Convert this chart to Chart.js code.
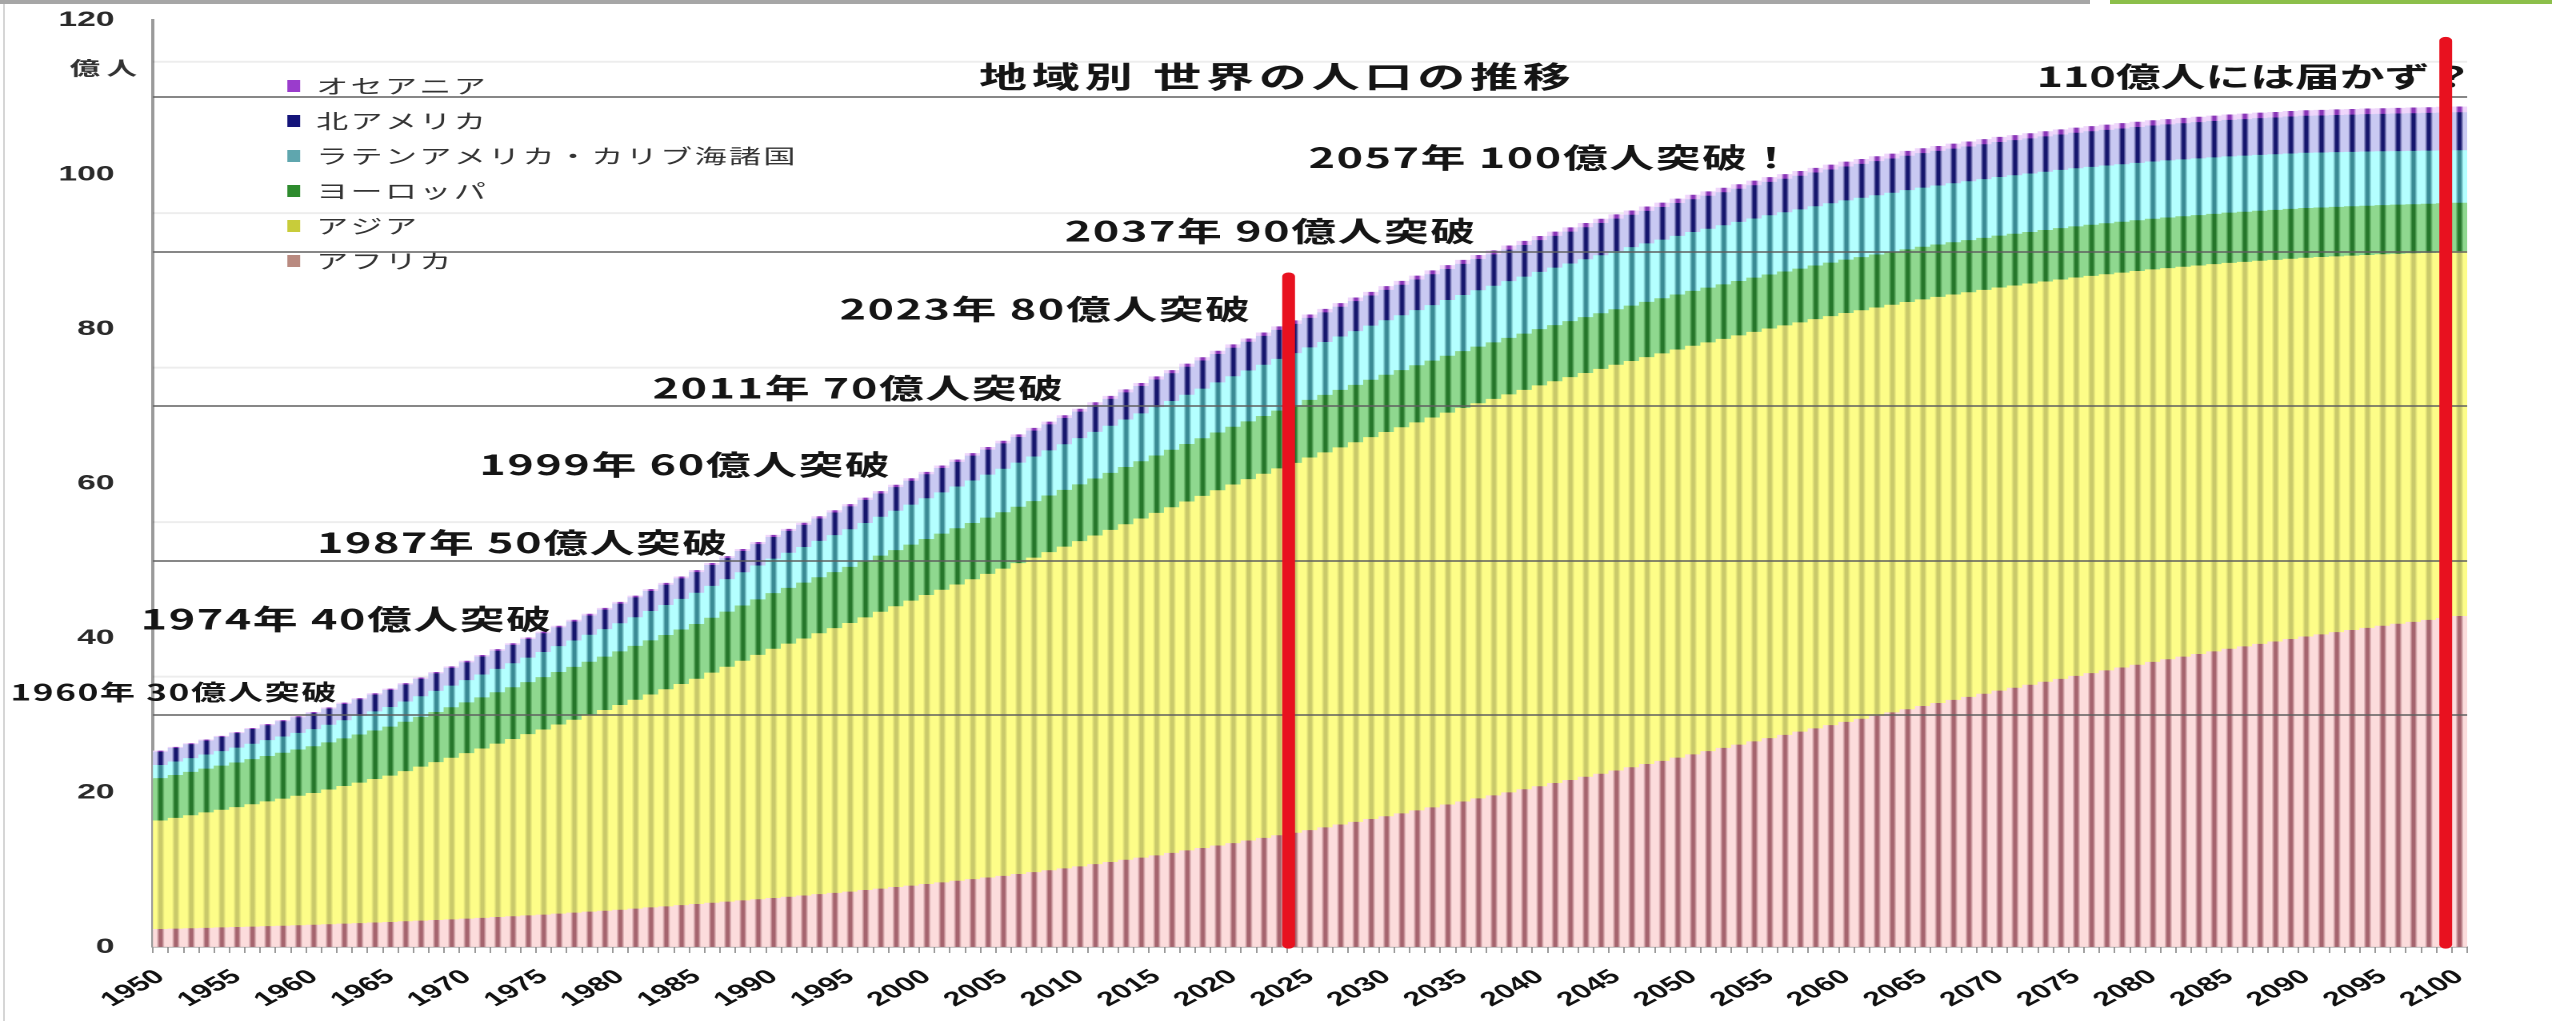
<!DOCTYPE html>
<html lang="ja">
<head>
<meta charset="utf-8">
<title>地域別 世界の人口の推移</title>
<script src="https://cdn.jsdelivr.net/npm/chart.js@4.4.1/dist/chart.umd.min.js"></script>
<style>
  html, body { margin: 0; padding: 0; background: #fff; overflow: hidden; }
  body { width: 2552px; height: 1021px; position: relative; }
  /* the source image is stretched sideways, so the chart is drawn narrow and widened */
  #stage { position: absolute; left: 0; top: 0; width: 1595px; height: 1021px; transform: scaleX(1.6); transform-origin: 0 0; }
  #topGray { position: absolute; left: 0; top: 0; width: 2090px; height: 4px; background: #a6a6a6; }
  #topGreen { position: absolute; left: 2110px; top: 0; width: 442px; height: 4px; background: #8cbf4a; }
  #leftEdge { position: absolute; left: 3px; top: 4px; width: 2px; height: 1017px; background: #d6d6d6; }
</style>
</head>
<body>
<div id="stage"><canvas id="popChart" width="1595" height="1021"></canvas></div>
<div id="topGray"></div>
<div id="topGreen"></div>
<div id="leftEdge"></div>
<script>
// 年 (1950〜2100)
const years = [];
for (let y = 1950; y <= 2100; y++) years.push(y);

// 人口 (億人) 地域別
const africa = [
  2.28, 2.33, 2.38, 2.44, 2.49, 2.54, 2.60, 2.66, 2.71, 2.77,
  2.83, 2.90, 2.98, 3.05, 3.13, 3.20, 3.29, 3.37, 3.46, 3.54,
  3.63, 3.73, 3.84, 3.94, 4.05, 4.15, 4.28, 4.40, 4.53, 4.65,
  4.78, 4.93, 5.08, 5.22, 5.37, 5.52, 5.68, 5.83, 5.99, 6.14,
  6.30, 6.47, 6.63, 6.80, 6.96, 7.13, 7.33, 7.52, 7.72, 7.91,
  8.11, 8.32, 8.53, 8.74, 8.95, 9.16, 9.41, 9.65, 9.90, 10.14,
  10.39, 10.68, 10.96, 11.25, 11.53, 11.82, 12.14, 12.46, 12.77, 13.09,
  13.41, 13.75, 14.08, 14.42, 14.75, 15.09, 15.45, 15.81, 16.16, 16.52,
  16.88, 17.26, 17.64, 18.03, 18.41, 18.79, 19.19, 19.58, 19.98, 20.37,
  20.77, 21.18, 21.58, 21.99, 22.39, 22.80, 23.22, 23.64, 24.05, 24.47,
  24.89, 25.31, 25.73, 26.16, 26.58, 27.00, 27.42, 27.84, 28.26, 28.68,
  29.10, 29.51, 29.92, 30.33, 30.74, 31.15, 31.55, 31.95, 32.34, 32.74,
  33.14, 33.52, 33.90, 34.29, 34.67, 35.05, 35.41, 35.77, 36.14, 36.50,
  36.86, 37.20, 37.54, 37.88, 38.22, 38.56, 38.88, 39.20, 39.51, 39.83,
  40.15, 40.43, 40.71, 40.99, 41.27, 41.55, 41.80, 42.05, 42.30, 42.55,
  42.80
];
const asia = [
  14.05, 14.35, 14.64, 14.94, 15.23, 15.53, 15.84, 16.15, 16.45, 16.76,
  17.07, 17.44, 17.82, 18.19, 18.57, 18.94, 19.44, 19.93, 20.43, 20.92,
  21.42, 21.93, 22.44, 22.95, 23.46, 23.97, 24.48, 24.98, 25.49, 25.99,
  26.50, 27.03, 27.57, 28.10, 28.64, 29.17, 29.79, 30.41, 31.02, 31.64,
  32.26, 32.76, 33.26, 33.77, 34.27, 34.77, 35.30, 35.83, 36.35, 36.88,
  37.41, 37.88, 38.36, 38.83, 39.31, 39.78, 40.24, 40.71, 41.17, 41.64,
  42.10, 42.55, 43.00, 43.44, 43.89, 44.34, 44.75, 45.17, 45.58, 46.00,
  46.41, 46.77, 47.14, 47.50, 47.87, 48.23, 48.53, 48.83, 49.14, 49.44,
  49.74, 49.98, 50.23, 50.47, 50.72, 50.96, 51.15, 51.33, 51.52, 51.70,
  51.89, 52.02, 52.15, 52.27, 52.40, 52.53, 52.60, 52.68, 52.75, 52.83,
  52.90, 52.92, 52.95, 52.97, 53.00, 53.02, 53.00, 52.98, 52.97, 52.95,
  52.93, 52.87, 52.82, 52.76, 52.71, 52.65, 52.56, 52.47, 52.37, 52.28,
  52.19, 52.07, 51.94, 51.82, 51.69, 51.57, 51.42, 51.27, 51.11, 50.96,
  50.81, 50.64, 50.47, 50.30, 50.13, 49.96, 49.77, 49.59, 49.40, 49.22,
  49.03, 48.84, 48.65, 48.46, 48.27, 48.08, 47.90, 47.72, 47.55, 47.38,
  47.20
];
const europe = [
  5.49, 5.55, 5.60, 5.66, 5.71, 5.77, 5.83, 5.88, 5.94, 5.99,
  6.05, 6.11, 6.17, 6.23, 6.29, 6.35, 6.39, 6.44, 6.48, 6.53,
  6.57, 6.61, 6.65, 6.69, 6.73, 6.77, 6.80, 6.84, 6.87, 6.91,
  6.94, 6.97, 7.00, 7.02, 7.05, 7.08, 7.11, 7.13, 7.16, 7.18,
  7.21, 7.22, 7.23, 7.25, 7.26, 7.27, 7.27, 7.27, 7.26, 7.26,
  7.26, 7.27, 7.27, 7.28, 7.28, 7.29, 7.30, 7.32, 7.33, 7.35,
  7.36, 7.37, 7.38, 7.40, 7.41, 7.42, 7.43, 7.44, 7.46, 7.47,
  7.48, 7.48, 7.47, 7.47, 7.46, 7.46, 7.45, 7.44, 7.43, 7.42,
  7.41, 7.40, 7.39, 7.37, 7.36, 7.35, 7.34, 7.32, 7.31, 7.29,
  7.28, 7.26, 7.24, 7.23, 7.21, 7.19, 7.17, 7.15, 7.14, 7.12,
  7.10, 7.08, 7.06, 7.04, 7.02, 7.00, 6.98, 6.96, 6.94, 6.92,
  6.90, 6.88, 6.86, 6.84, 6.82, 6.80, 6.78, 6.76, 6.75, 6.73,
  6.71, 6.69, 6.68, 6.66, 6.65, 6.63, 6.62, 6.60, 6.59, 6.57,
  6.56, 6.55, 6.54, 6.52, 6.51, 6.50, 6.49, 6.48, 6.46, 6.45,
  6.44, 6.42, 6.41, 6.39, 6.38, 6.36, 6.35, 6.34, 6.32, 6.31,
  6.30
];
const latinAmerica = [
  1.69, 1.74, 1.79, 1.83, 1.88, 1.93, 1.99, 2.04, 2.10, 2.15,
  2.21, 2.28, 2.34, 2.41, 2.47, 2.54, 2.61, 2.68, 2.74, 2.81,
  2.88, 2.96, 3.03, 3.11, 3.18, 3.26, 3.34, 3.41, 3.49, 3.56,
  3.64, 3.72, 3.80, 3.89, 3.97, 4.05, 4.13, 4.21, 4.30, 4.38,
  4.46, 4.54, 4.62, 4.71, 4.79, 4.87, 4.95, 5.03, 5.10, 5.18,
  5.26, 5.34, 5.41, 5.49, 5.56, 5.64, 5.71, 5.78, 5.84, 5.91,
  5.98, 6.04, 6.10, 6.15, 6.21, 6.27, 6.32, 6.38, 6.43, 6.49,
  6.54, 6.59, 6.64, 6.70, 6.75, 6.80, 6.85, 6.90, 6.96, 7.01,
  7.06, 7.10, 7.14, 7.18, 7.22, 7.26, 7.29, 7.32, 7.35, 7.38,
  7.41, 7.44, 7.46, 7.49, 7.51, 7.54, 7.56, 7.57, 7.59, 7.60,
  7.62, 7.63, 7.64, 7.65, 7.66, 7.67, 7.67, 7.67, 7.68, 7.68,
  7.68, 7.68, 7.67, 7.67, 7.66, 7.66, 7.65, 7.64, 7.62, 7.61,
  7.60, 7.58, 7.57, 7.55, 7.54, 7.52, 7.50, 7.48, 7.45, 7.43,
  7.41, 7.39, 7.36, 7.34, 7.31, 7.29, 7.26, 7.23, 7.21, 7.18,
  7.15, 7.11, 7.08, 7.04, 7.01, 6.97, 6.94, 6.90, 6.87, 6.83,
  6.80
];
const northAmerica = [
  1.73, 1.76, 1.79, 1.81, 1.84, 1.87, 1.91, 1.94, 1.98, 2.01,
  2.05, 2.08, 2.11, 2.13, 2.16, 2.19, 2.21, 2.24, 2.26, 2.29,
  2.31, 2.33, 2.35, 2.38, 2.40, 2.42, 2.44, 2.47, 2.49, 2.52,
  2.54, 2.57, 2.59, 2.62, 2.64, 2.67, 2.70, 2.72, 2.75, 2.77,
  2.80, 2.83, 2.86, 2.90, 2.93, 2.96, 2.99, 3.02, 3.06, 3.09,
  3.12, 3.15, 3.18, 3.22, 3.25, 3.28, 3.31, 3.34, 3.37, 3.40,
  3.43, 3.46, 3.48, 3.51, 3.54, 3.57, 3.59, 3.62, 3.64, 3.67,
  3.69, 3.71, 3.74, 3.76, 3.79, 3.81, 3.83, 3.86, 3.88, 3.91,
  3.93, 3.95, 3.97, 3.99, 4.01, 4.03, 4.05, 4.06, 4.08, 4.09,
  4.11, 4.12, 4.14, 4.15, 4.17, 4.18, 4.19, 4.21, 4.22, 4.24,
  4.25, 4.26, 4.28, 4.29, 4.31, 4.32, 4.33, 4.35, 4.36, 4.38,
  4.39, 4.40, 4.42, 4.43, 4.45, 4.46, 4.47, 4.49, 4.50, 4.52,
  4.53, 4.54, 4.55, 4.57, 4.58, 4.59, 4.60, 4.62, 4.63, 4.65,
  4.66, 4.67, 4.68, 4.70, 4.71, 4.72, 4.73, 4.75, 4.76, 4.78,
  4.79, 4.80, 4.81, 4.83, 4.84, 4.85, 4.86, 4.88, 4.89, 4.90,
  4.91
];
const oceania = [
  0.13, 0.13, 0.13, 0.14, 0.14, 0.14, 0.14, 0.15, 0.15, 0.16,
  0.16, 0.16, 0.17, 0.17, 0.18, 0.18, 0.18, 0.19, 0.19, 0.20,
  0.20, 0.20, 0.20, 0.21, 0.21, 0.21, 0.21, 0.22, 0.22, 0.23,
  0.23, 0.23, 0.24, 0.24, 0.25, 0.25, 0.25, 0.26, 0.26, 0.27,
  0.27, 0.27, 0.28, 0.28, 0.29, 0.29, 0.29, 0.30, 0.30, 0.31,
  0.31, 0.32, 0.32, 0.33, 0.33, 0.34, 0.35, 0.35, 0.36, 0.36,
  0.37, 0.38, 0.38, 0.39, 0.39, 0.40, 0.41, 0.41, 0.42, 0.42,
  0.43, 0.43, 0.44, 0.44, 0.45, 0.45, 0.46, 0.46, 0.47, 0.47,
  0.48, 0.49, 0.49, 0.50, 0.50, 0.51, 0.51, 0.52, 0.52, 0.53,
  0.53, 0.54, 0.54, 0.55, 0.55, 0.56, 0.56, 0.56, 0.57, 0.57,
  0.57, 0.58, 0.58, 0.59, 0.59, 0.60, 0.60, 0.61, 0.61, 0.62,
  0.62, 0.62, 0.63, 0.63, 0.64, 0.64, 0.64, 0.64, 0.65, 0.65,
  0.65, 0.65, 0.66, 0.66, 0.67, 0.67, 0.67, 0.67, 0.68, 0.68,
  0.68, 0.68, 0.69, 0.69, 0.70, 0.70, 0.70, 0.71, 0.71, 0.72,
  0.72, 0.72, 0.72, 0.73, 0.73, 0.73, 0.73, 0.74, 0.74, 0.75,
  0.75
];

// y軸の目盛り
const yTicks = [0, 20, 40, 60, 80, 100, 120];

// 吹き出し文字: [文字, 左端の年, 高さ(億人), 文字サイズ, 字間]
const notes = [
  ['地域別 世界の人口の推移', 2003.9, 112.7, 30, 3],
  ['1960年 30億人突破', 1940.7, 33.0, 22, 1],
  ['1974年 40億人突破', 1949.2, 42.5, 28, 1],
  ['1987年 50億人突破', 1960.7, 52.4, 28, 1],
  ['1999年 60億人突破', 1971.3, 62.5, 28, 1],
  ['2011年 70億人突破', 1982.6, 72.4, 28, 1],
  ['2023年 80億人突破', 1994.8, 82.6, 28, 1],
  ['2037年 90億人突破', 2009.5, 92.7, 28, 1],
  ['2057年 100億人突破！', 2025.4, 102.2, 28, 1],
  ['110億人には届かず？', 2072.9, 112.7, 28, 0]
];
const boldLines = [30, 50, 70, 90, 110];
const faintLines = [35, 55, 75, 95, 114.6];
// 手書きの赤線: [年, 上端(億人)]
const redMarks = [[2023.6, 86.8], [2099.1, 117.3]];

const ctx = document.getElementById('popChart').getContext('2d');
const jpFont = '"Noto Sans CJK JP", "Noto Sans", sans-serif';

// each bar: dark stripe in the middle, light sides (like the old 3D bars)
function stripe(dark, light) {
    return (c) => {
        const chart = c.chart;
        const xs = chart.scales.x;
        if (!xs || c.type !== 'data' || !chart.chartArea) return dark;
        const cx = xs.getPixelForValue(c.dataIndex);
        const w = xs.width / years.length;
        const g = chart.ctx.createLinearGradient(cx - w / 2, 0, cx + w / 2, 0);
        g.addColorStop(0, light);
        g.addColorStop(0.24, light);
        g.addColorStop(0.42, dark);
        g.addColorStop(0.58, dark);
        g.addColorStop(0.76, light);
        g.addColorStop(1, light);
        return g;
    };
}

const series = [
    { label: 'アフリカ', data: africa, dark: '#a5646e', light: '#fcdcdc', key: '#b98a80' },
    { label: 'アジア', data: asia, dark: '#c9c96a', light: '#fdfd88', key: '#c8cc3a' },
    { label: 'ヨーロッパ', data: europe, dark: '#25762a', light: '#8fd88f', key: '#2e8b2e' },
    { label: 'ラテンアメリカ・カリブ海諸国', data: latinAmerica, dark: '#3a8a94', light: '#b4ffff', key: '#5fa6ae' },
    { label: '北アメリカ', data: northAmerica, dark: '#15156c', light: '#c9c9f2', key: '#14147a' },
    { label: 'オセアニア', data: oceania, dark: '#8a35b8', light: '#efd6fb', key: '#9a3ccc' }
];

const xOf = (chart, year) => chart.scales.x.getPixelForValue(year - years[0]);

const decorations = {
    id: 'decorations',
    beforeDatasetsDraw(chart) {
        const { ctx, chartArea, scales } = chart;
        ctx.save();
        ctx.strokeStyle = 'rgba(0,0,0,0.07)';
        ctx.lineWidth = 2;
        faintLines.forEach(v => {
            const y = scales.y.getPixelForValue(v);
            ctx.beginPath();
            ctx.moveTo(chartArea.left, y);
            ctx.lineTo(chartArea.right, y);
            ctx.stroke();
        });
        ctx.restore();
    },
    afterDatasetsDraw(chart) {
        const { ctx, chartArea, scales } = chart;
        ctx.save();
        // horizontal guide lines
        ctx.strokeStyle = 'rgba(95,95,95,0.75)';
        ctx.lineWidth = 2;
        boldLines.forEach(v => {
            const y = Math.round(scales.y.getPixelForValue(v));
            ctx.beginPath();
            ctx.moveTo(chartArea.left, y);
            ctx.lineTo(chartArea.right, y);
            ctx.stroke();
        });

        // legend (reverse order, top-left inside the plot)
        const lx = chartArea.left + 84;
        let ly = chartArea.top + 66;
        ctx.font = '20px ' + jpFont;
        ctx.letterSpacing = '1.5px';
        ctx.textBaseline = 'middle';
        ctx.textAlign = 'left';
        for (let i = series.length - 1; i >= 0; i--) {
            ctx.fillStyle = series[i].key;
            ctx.fillRect(lx, ly - 6, 8, 12);
            ctx.fillStyle = '#333';
            ctx.fillText(series[i].label, lx + 18, ly);
            ly += 35;
        }

        // unit
        ctx.letterSpacing = '4px';
        ctx.font = 'bold 19px ' + jpFont;
        ctx.textAlign = 'center';
        ctx.fillStyle = '#333';
        ctx.fillText('億人', chartArea.left - 29, scales.y.getPixelForValue(113.8));

        // notes
        ctx.textAlign = 'left';
        ctx.fillStyle = '#151515';
        notes.forEach(([text, year, v, size, gap]) => {
            ctx.font = 'bold ' + size + 'px ' + jpFont;
            ctx.letterSpacing = gap + 'px';
            ctx.fillText(text, xOf(chart, year) - 4.8, scales.y.getPixelForValue(v));
        });
        ctx.letterSpacing = '0px';
        ctx.restore();
    },
    afterDraw(chart) {
        const { ctx, scales } = chart;
        ctx.save();
        ctx.strokeStyle = '#e8111f';
        ctx.lineWidth = 8;
        ctx.lineCap = 'round';
        redMarks.forEach(([year, top]) => {
            const x = xOf(chart, year);
            ctx.beginPath();
            ctx.moveTo(x, scales.y.getPixelForValue(top));
            ctx.lineTo(x, scales.y.getPixelForValue(0.3));
            ctx.stroke();
        });
        ctx.restore();
    }
};

new Chart(ctx, {
    type: 'bar',
    data: {
        labels: years,
        datasets: series.map(s => ({
            label: s.label,
            data: s.data,
            backgroundColor: stripe(s.dark, s.light),
            borderWidth: 0,
            barPercentage: 1,
            categoryPercentage: 1
        }))
    },
    options: {
        responsive: false,
        devicePixelRatio: 2,
        animation: false,
        // top padding must beat half the y label height, or Chart.js uses that instead
        layout: { padding: { top: 20, right: 53, left: 0, bottom: 0 } },
        plugins: {
            legend: { display: false },
            tooltip: { enabled: false }
        },
        scales: {
            x: {
                stacked: true,
                afterFit(scale) { scale.height = 74; },
                grid: { display: true, drawOnChartArea: false, drawTicks: true, tickLength: 6, color: '#9a9a9a' },
                border: { display: true, color: '#8a8a8a', width: 1 },
                ticks: {
                    autoSkip: false,
                    minRotation: 40,
                    maxRotation: 40,
                    padding: 12,
                    color: '#111',
                    font: { family: '"Liberation Sans", Arial, sans-serif', size: 20, weight: 'bold' },
                    callback: (v, i) => (years[i] % 5 === 0 ? String(years[i]) : '')
                }
            },
            y: {
                stacked: true,
                min: 0,
                max: 120,
                afterFit(scale) { scale.width = 95.6; },
                afterBuildTicks(scale) { scale.ticks = yTicks.map(v => ({ value: v })); },
                // invisible tick marks keep the labels away from the axis line
                grid: { display: true, drawOnChartArea: false, drawTicks: true, tickLength: 24, color: 'rgba(0,0,0,0)' },
                border: { display: true, color: '#9a9a9a', width: 2 },
                ticks: {
                    padding: 0,
                    color: '#2a2a2a',
                    font: { family: '"Liberation Sans", Arial, sans-serif', size: 21, weight: 'bold' }
                }
            }
        }
    },
    plugins: [decorations]
});
</script>
</body>
</html>
